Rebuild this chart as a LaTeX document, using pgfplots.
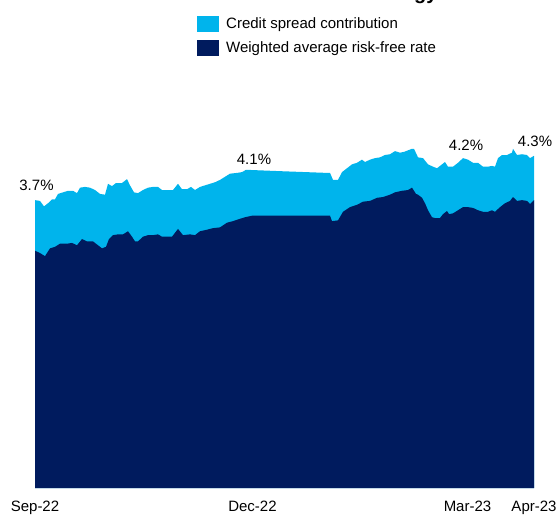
\documentclass[border=0pt]{standalone}
\usepackage{pgfplots}
\pgfplotsset{compat=1.18}
\usepackage{fontspec}
\setmainfont{Liberation Sans}
\definecolor{spreadblue}{RGB}{0,180,236}
\definecolor{rfnavy}{RGB}{0,27,94}
\newcommand{\cf}{\fontsize{15}{18}\selectfont}
\newcommand{\tf}{\fontsize{15}{18}\selectfont}
\begin{document}
\begin{tikzpicture}[x=1pt,y=1pt]
\useasboundingbox (0,0) rectangle (559,514);
\node[anchor=base east,font=\bfseries\fontsize{20}{24}\selectfont] at (441,514) {Yield of the strategy};
\begin{axis}[
  at={(35pt,26pt)}, anchor=south west,
  scale only axis, width=499pt, height=389pt,
  xmin=0, xmax=499, ymin=0, ymax=5,
  axis line style={draw=none},
  ytick=\empty,
  xtick={0,217.5,432.5,499},
  xticklabels={Sep-22,Dec-22,Mar-23,Apr-23},
  major tick length=0pt,
  xticklabel style={font=\tf, anchor=base, yshift=-23pt},
  clip=false,
  legend style={at={(0.3246,1.2135)}, anchor=north west, draw=none, fill=none,
    font=\cf, inner sep=0pt, row sep=7.5pt, column sep=7pt,
    nodes={inner sep=0pt, anchor=base west}},
  legend cell align=left,
  legend image code/.code={\fill[#1] (0pt,-3.6pt) rectangle (22pt,12.4pt);},
]
\addplot[fill=spreadblue, draw=none] coordinates {
(0,3.70) (5,3.69) (9,3.62) (13,3.66) (17,3.71) (20,3.71) (23,3.78) (28,3.80)
(33,3.82) (38,3.82) (42,3.79) (45,3.86) (50,3.87) (55,3.86) (60,3.83) (65,3.78)
(70,3.77) (73,3.91) (77,3.88) (81,3.92) (87,3.92) (92,3.97) (95,3.89) (99,3.80)
(103,3.79) (108,3.83) (113,3.86) (118,3.87) (123,3.87) (127,3.83) (133,3.83)
(138,3.83) (143,3.91) (147,3.84) (152,3.84) (156,3.87) (160,3.83) (165,3.87)
(170,3.89) (175,3.91) (180,3.93) (185,3.96) (190,4.00) (195,4.04) (202,4.05)
(207,4.06) (211,4.09) (250,4.07) (292,4.05) (295,4.05) (298,3.96) (303,3.96)
(307,4.06) (312,4.11) (317,4.16) (322,4.18) (327,4.22) (330,4.19) (335,4.22)
(340,4.24) (345,4.25) (350,4.28) (355,4.29) (360,4.33) (365,4.31) (369,4.32)
(373,4.34) (377,4.36) (379,4.36) (383,4.25) (388,4.24) (393,4.16) (398,4.13)
(402,4.11) (407,4.16) (410,4.19) (413,4.13) (418,4.13) (423,4.18) (428,4.24)
(433,4.22) (438,4.18) (443,4.18) (448,4.13) (453,4.13) (457,4.14) (460,4.13)
(463,4.24) (467,4.28) (472,4.28) (477,4.31) (478,4.36) (482,4.28) (487,4.29)
(492,4.28) (495,4.24) (499,4.27)
} \closedcycle;
\addlegendentry{Credit spread contribution}
\addplot[fill=rfnavy, draw=none] coordinates {
(0,3.05) (5,3.02) (10,2.98) (15,3.08) (20,3.10) (25,3.14) (32,3.14) (37,3.15)
(42,3.12) (47,3.20) (52,3.17) (58,3.17) (63,3.12) (67,3.08) (71,3.10) (74,3.20)
(78,3.25) (83,3.26) (88,3.26) (93,3.30) (97,3.23) (100,3.17) (103,3.17) (108,3.23)
(113,3.25) (118,3.25) (123,3.26) (127,3.23) (137,3.23) (140,3.28) (143,3.33)
(148,3.25) (155,3.26) (160,3.25) (165,3.30) (172,3.32) (178,3.34) (185,3.35)
(192,3.41) (198,3.43) (205,3.46) (210,3.48) (217,3.50) (295,3.50) (297,3.43)
(303,3.44) (308,3.55) (315,3.61) (322,3.64) (328,3.68) (335,3.69) (342,3.73)
(348,3.74) (355,3.77) (360,3.80) (367,3.82) (373,3.83) (377,3.86) (381,3.78)
(383,3.77) (387,3.73) (390,3.66) (393,3.57) (397,3.48) (400,3.47) (405,3.47)
(408,3.52) (412,3.56) (414,3.52) (418,3.53) (423,3.57) (428,3.61) (433,3.61)
(438,3.60) (443,3.57) (448,3.55) (453,3.55) (457,3.57) (460,3.55) (465,3.61)
(470,3.66) (475,3.69) (478,3.74) (482,3.69) (487,3.70) (492,3.69) (495,3.65)
(499,3.70)
} \closedcycle;
\addlegendentry{Weighted average risk-free rate}
\node[font=\tf] at (axis cs:1.5,3.89) {3.7\%};
\node[font=\tf] at (axis cs:219,4.23) {4.1\%};
\node[font=\tf] at (axis cs:431,4.40) {4.2\%};
\node[font=\tf] at (axis cs:500,4.46) {4.3\%};
\end{axis}
\end{tikzpicture}
\end{document}
